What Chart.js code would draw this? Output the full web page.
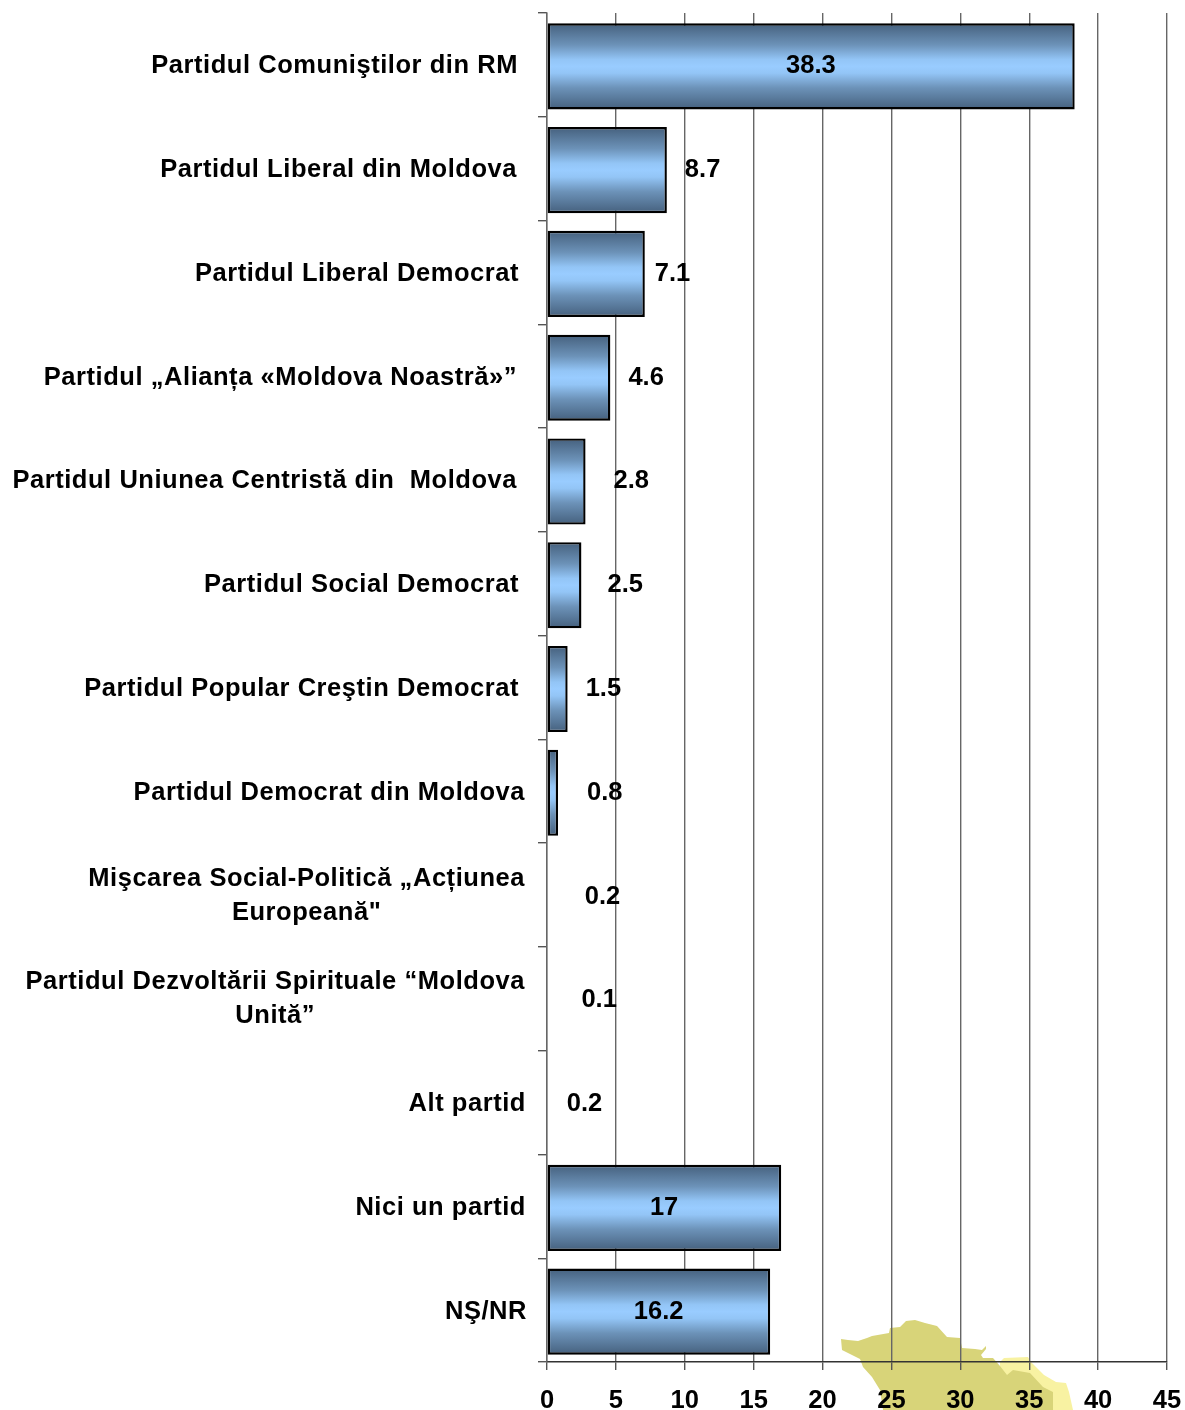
<!DOCTYPE html>
<html><head><meta charset="utf-8">
<style>html,body{margin:0;padding:0;background:#fff}canvas{display:block}</style>
<script src="https://cdn.jsdelivr.net/npm/chart.js@4/dist/chart.umd.min.js"></script>
</head><body>
<canvas id="c" width="1185" height="1410"></canvas>
<script>
const categories = [
  ["Partidul Comuniştilor din RM"],
  ["Partidul Liberal din Moldova"],
  ["Partidul Liberal Democrat"],
  ["Partidul „Alianța «Moldova Noastră»”"],
  ["Partidul Uniunea Centristă din  Moldova"],
  ["Partidul Social Democrat"],
  ["Partidul Popular Creştin Democrat"],
  ["Partidul Democrat din Moldova"],
  ["Mişcarea Social-Politică „Acțiunea", "Europeană\""],
  ["Partidul Dezvoltării Spirituale “Moldova", "Unită”"],
  ["Alt partid"],
  ["Nici un partid"],
  ["NŞ/NR"]
];
const values = [38.3, 8.7, 7.1, 4.6, 2.8, 2.5, 1.5, 0.8, 0.2, 0.1, 0.2, 17, 16.2];
const xTicks = [0, 5, 10, 15, 20, 25, 30, 35, 40, 45];

// label layout, separate from the data
const FONT = 'bold 25.5px "Liberation Sans", Arial, sans-serif';
const catRightEdge = [518, 517, 519, 517, 517, 519, 519, 525, 525, 525, 526, 526, 527];
const valueGap = [null, 18, 10, 18, 28, 26, 18, 29, 35, 33, 17, null, null];
const BAR_SHIFT = 1.5, TEXT_SHIFT = 1.5;
const mapDark = [[841,1339],[848,1340],[858,1341],[867,1338],[872,1336],[889,1333],[890,1328],[900,1327],[906,1321],[915,1320],[925,1323],[937,1326],[947,1337],[960,1338],[962,1348],[975,1349],[982,1350],[986,1346],[986,1349],[981,1355],[983,1358],[993,1358],[1000,1366],[1007,1375],[1013,1370],[1030,1373],[1043,1387],[1053,1392],[1053,1410],[883,1410],[880,1390],[872,1377],[863,1367],[860,1359],[842,1350]];
const mapLight = [[1000,1362],[1004,1358],[1028,1357],[1031,1362],[1044,1375],[1056,1382],[1066,1383],[1069,1392],[1073,1410],[1000,1410]];

function poly(ctx, pts, color) {
  ctx.fillStyle = color; ctx.beginPath();
  pts.forEach((p, i) => i ? ctx.lineTo(p[0], p[1]) : ctx.moveTo(p[0], p[1]));
  ctx.closePath(); ctx.fill();
}
function barFill(ctx) {
  const chart = ctx.chart, y = chart.scales.y;
  if (ctx.type !== 'data' || !y) return '#99ccff';
  if (values[ctx.dataIndex] < 0.5) return 'rgba(0,0,0,0)';
  const c = y.getPixelForValue(ctx.dataIndex) + BAR_SHIFT, h = y.height / categories.length * 0.415;
  if (!isFinite(c) || !isFinite(h)) return '#99ccff';
  const g = chart.ctx.createLinearGradient(0, c - h, 0, c + h);
  g.addColorStop(0, '#45607d'); g.addColorStop(0.25, '#6c92b8'); g.addColorStop(0.42, '#93c5f6');
  g.addColorStop(0.5, '#99ccff');
  g.addColorStop(0.58, '#93c5f6'); g.addColorStop(0.75, '#6c92b8'); g.addColorStop(1, '#45607d');
  return g;
}
const decor = {
  id: 'decor',
  afterDatasetsUpdate(chart) {
    chart.getDatasetMeta(0).data.forEach(el => { el.y += BAR_SHIFT; });
  },
  beforeDraw(chart) {
    const ctx = chart.ctx;
    ctx.save();
    ctx.fillStyle = '#fff'; ctx.fillRect(0, 0, chart.width, chart.height);
    poly(ctx, mapLight, '#f8f2a2');
    poly(ctx, mapDark, '#d8d479');
    ctx.restore();
  },
  afterDraw(chart) {
    const ctx = chart.ctx, x = chart.scales.x, y = chart.scales.y;
    ctx.save();
    ctx.font = FONT; ctx.fillStyle = '#000'; ctx.textBaseline = 'middle';
    ctx.letterSpacing = '0.55px';
    categories.forEach((lines, i) => {
      const cy = y.getPixelForValue(i) + TEXT_SHIFT;
      if (lines.length === 1) {
        ctx.textAlign = 'right';
        ctx.fillText(lines[0], catRightEdge[i], cy);
      } else {
        const w = ctx.measureText(lines[0]).width, mid = catRightEdge[i] - w / 2;
        ctx.textAlign = 'center';
        ctx.fillText(lines[0], mid, cy - 18);
        ctx.fillText(lines[1], mid, cy + 16);
      }
    });
    ctx.letterSpacing = '0px';
    values.forEach((v, i) => {
      const cy = y.getPixelForValue(i) + TEXT_SHIFT;
      if (valueGap[i] === null) {
        ctx.textAlign = 'center';
        ctx.fillText(String(v), (x.getPixelForValue(0) + x.getPixelForValue(v)) / 2, cy);
      } else {
        ctx.textAlign = 'left';
        ctx.fillText(String(v), x.getPixelForValue(v) + valueGap[i], cy);
      }
    });
    ctx.restore();
  }
};
new Chart(document.getElementById('c'), {
  type: 'bar',
  data: {
    labels: categories,
    datasets: [{
      data: values,
      backgroundColor: barFill,
      borderColor: c => values[c.dataIndex] < 0.5 ? 'rgba(0,0,0,0)' : '#000',
      borderWidth: 2.4,
      borderSkipped: false,
      categoryPercentage: 1,
      barPercentage: 0.83
    }]
  },
  options: {
    indexAxis: 'y',
    responsive: false,
    animation: false,
    layout: { padding: { top: 13, right: 18, left: 0, bottom: 0 } },
    plugins: { legend: { display: false }, tooltip: { enabled: false }, title: { display: false } },
    scales: {
      x: {
        type: 'linear', min: 0, max: 45,
        afterBuildTicks(s) { s.ticks = xTicks.map(v => ({ value: v })); },
        afterFit(s) { s.height = 48; s.paddingRight = 0; s.paddingLeft = 0; },
        grid: { color: '#666', lineWidth: 1.4, tickLength: 8, tickColor: '#555' },
        border: { color: '#333', width: 1.4 },
        ticks: { font: { family: '"Liberation Sans", Arial, sans-serif', size: 25.5, weight: 'bold' }, color: '#000', padding: 16, maxRotation: 0, autoSkip: false }
      },
      y: {
        type: 'category',
        afterFit(s) { s.width = 547; s.paddingTop = 0; s.paddingBottom = 0; },
        grid: { drawOnChartArea: false, offset: true, tickLength: 9, tickColor: '#555', lineWidth: 1.4 },
        border: { color: '#666', width: 1.4 },
        ticks: { display: false }
      }
    }
  },
  plugins: [decor]
});
</script>
</body></html>
